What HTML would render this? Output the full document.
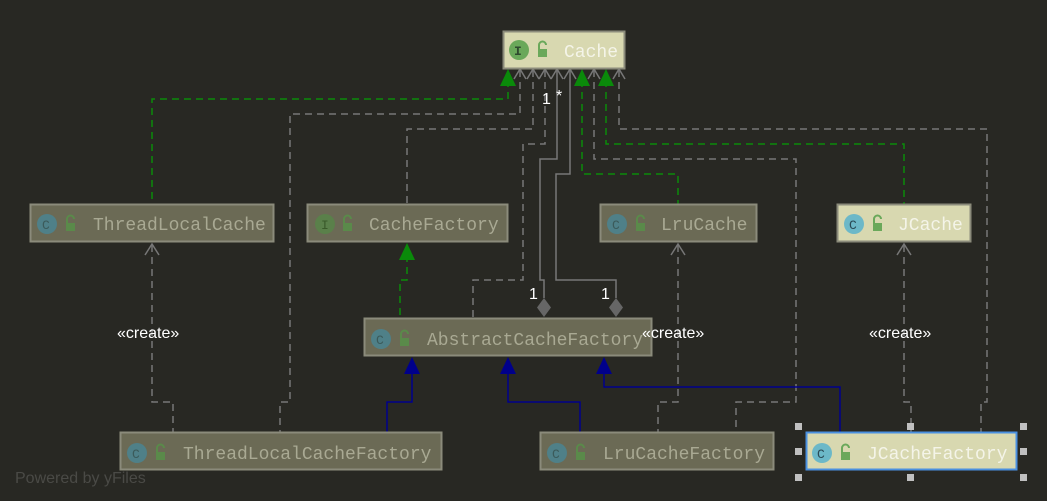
<!DOCTYPE html>
<html><head><meta charset="utf-8"><style>
html,body{margin:0;padding:0;background:#282823;}
svg{display:block}
.m{font-family:"Liberation Mono",monospace;font-size:18px}
.s{font-family:"Liberation Sans",sans-serif;font-size:16px;fill:#fff}
</style></head><body>
<svg width="1047" height="501" viewBox="0 0 1047 501" xmlns="http://www.w3.org/2000/svg">
<rect width="1047" height="501" fill="#282823"/>
<g fill="none" stroke-width="1.5">
<!-- green dashed realizations -->
<g stroke="#0a8a0a" stroke-dasharray="7,5">
<path d="M508 80V99H152V204"/>
<path d="M582 80V174H678V204"/>
<path d="M606 80V144H904V204"/>
<path d="M407 255V280H400V318"/>
</g>
<!-- gray dashed dependencies -->
<g stroke="#777" stroke-dasharray="7,5">
<path d="M520 70V114H290V402H280V432"/>
<path d="M533 70V129H407V204"/>
<path d="M545 70V144H523V280H473V318"/>
<path d="M594 70V159H796V402H736V432"/>
<path d="M619 70V129H987V402H981V432"/>
<path d="M152 245V402H173V432"/>
<path d="M678 245V402H658V432"/>
<path d="M904 245V402H911V432"/>
</g>
<!-- solid gray aggregation -->
<g stroke="#777">
<path d="M557 70V159H540V280H544V298"/>
<path d="M570 70V174H556V280H616V298"/>
</g>
<!-- open arrowheads -->
<g stroke="#777">
<path d="M514 79L520 69L526 79M527 79L533 69L539 79M539 79L545 69L551 79M551 79L557 69L563 79M564 79L570 69L576 79M588 79L594 69L600 79M613 79L619 69L625 79"/>
<path d="M145 255L152 244L159 255M671 255L678 244L685 255M897 255L904 244L911 255"/>
</g>
<!-- blue generalization -->
<g stroke="#00008b">
<path d="M412 372V402H387V432"/>
<path d="M508 372V402H580V432"/>
<path d="M604 372V387H840V432"/>
</g>
</g>
<g fill="#0a8a0a">
<path d="M508 69L500 86H516Z"/><path d="M582 69L574 86H590Z"/><path d="M606 69L598 86H614Z"/><path d="M407 243L399 260H415Z"/>
</g>
<g fill="#00008b">
<path d="M412 357L404 374H420Z"/><path d="M508 357L500 374H516Z"/><path d="M604 357L596 374H612Z"/>
</g>
<g fill="#666">
<path d="M544 298L551 307.5L544 317L537 307.5Z"/><path d="M616 298L623 307.5L616 317L609 307.5Z"/>
</g>

<!-- nodes -->
<g class="m">
<!-- Cache -->
<rect x="503.5" y="31.5" width="121" height="37" fill="#d8d8b0" stroke="#8b8b7b" stroke-width="2"/>
<circle cx="519" cy="50" r="10" fill="#6aa85a"/><text x="514" y="55" font-size="13" fill="#2e4a2e" font-weight="bold">I</text>
<rect x="538" y="49" width="9" height="8" fill="#6aa85a"/><path d="M539 49v-4a3.5 3.5 0 0 1 7 0" stroke="#6aa85a" stroke-width="2" fill="none"/>
<text x="564" y="57" fill="#f4f4e8">Cache</text>

<!-- ThreadLocalCache -->
<rect x="30.5" y="204.5" width="243" height="37" fill="#6b6a55" stroke="#8b8b7b" stroke-width="2"/>
<circle cx="47" cy="224" r="10" fill="#4f8088"/><text x="42" y="229" font-size="13" fill="#3b5a5a">C</text>
<rect x="66" y="223" width="9" height="8" fill="#5a8a4a"/><path d="M67 223v-4a3.5 3.5 0 0 1 7 0" stroke="#5a8a4a" stroke-width="2" fill="none"/>
<text x="93" y="230" fill="#a9a993">ThreadLocalCache</text>

<!-- CacheFactory -->
<rect x="307.5" y="204.5" width="200" height="37" fill="#6b6a55" stroke="#8b8b7b" stroke-width="2"/>
<circle cx="325" cy="224" r="10" fill="#5a804a"/><text x="321" y="229" font-size="13" fill="#3a5a2a">I</text>
<rect x="343" y="223" width="9" height="8" fill="#5a8a4a"/><path d="M344 223v-4a3.5 3.5 0 0 1 7 0" stroke="#5a8a4a" stroke-width="2" fill="none"/>
<text x="369" y="230" fill="#a9a993">CacheFactory</text>

<!-- LruCache -->
<rect x="600.5" y="204.5" width="156" height="37" fill="#6b6a55" stroke="#8b8b7b" stroke-width="2"/>
<circle cx="617" cy="224" r="10" fill="#4f8088"/><text x="612" y="229" font-size="13" fill="#3b5a5a">C</text>
<rect x="636" y="223" width="9" height="8" fill="#5a8a4a"/><path d="M637 223v-4a3.5 3.5 0 0 1 7 0" stroke="#5a8a4a" stroke-width="2" fill="none"/>
<text x="661" y="230" fill="#a9a993">LruCache</text>

<!-- JCache -->
<rect x="837.5" y="204.5" width="133" height="37" fill="#d8d8b0" stroke="#8b8b7b" stroke-width="2"/>
<circle cx="854" cy="224" r="10" fill="#6cb8c8"/><text x="849" y="229" font-size="13" fill="#2a4a55">C</text>
<rect x="873" y="223" width="9" height="8" fill="#6aa85a"/><path d="M874 223v-4a3.5 3.5 0 0 1 7 0" stroke="#6aa85a" stroke-width="2" fill="none"/>
<text x="898" y="230" fill="#f4f4e8">JCache</text>

<!-- AbstractCacheFactory -->
<rect x="364.5" y="318.5" width="287" height="37" fill="#6b6a55" stroke="#8b8b7b" stroke-width="2"/>
<circle cx="381" cy="339" r="10" fill="#4f8088"/><text x="376" y="344" font-size="13" fill="#3b5a5a">C</text>
<rect x="400" y="338" width="9" height="8" fill="#5a8a4a"/><path d="M401 338v-4a3.5 3.5 0 0 1 7 0" stroke="#5a8a4a" stroke-width="2" fill="none"/>
<text x="427" y="345" fill="#a9a993">AbstractCacheFactory</text>

<!-- ThreadLocalCacheFactory -->
<rect x="120.5" y="432.5" width="321" height="37" fill="#6b6a55" stroke="#8b8b7b" stroke-width="2"/>
<circle cx="137" cy="453" r="10" fill="#4f8088"/><text x="132" y="458" font-size="13" fill="#3b5a5a">C</text>
<rect x="156" y="452" width="9" height="8" fill="#5a8a4a"/><path d="M157 452v-4a3.5 3.5 0 0 1 7 0" stroke="#5a8a4a" stroke-width="2" fill="none"/>
<text x="183" y="459" fill="#a9a993">ThreadLocalCacheFactory</text>

<!-- LruCacheFactory -->
<rect x="540.5" y="432.5" width="233" height="37" fill="#6b6a55" stroke="#8b8b7b" stroke-width="2"/>
<circle cx="557" cy="453" r="10" fill="#4f8088"/><text x="552" y="458" font-size="13" fill="#3b5a5a">C</text>
<rect x="576" y="452" width="9" height="8" fill="#5a8a4a"/><path d="M577 452v-4a3.5 3.5 0 0 1 7 0" stroke="#5a8a4a" stroke-width="2" fill="none"/>
<text x="603" y="459" fill="#a9a993">LruCacheFactory</text>

<!-- JCacheFactory -->
<rect x="806.5" y="432.5" width="210" height="37" fill="#d8d8b0" stroke="#4a90e0" stroke-width="2"/>
<circle cx="822" cy="453" r="10" fill="#6cb8c8"/><text x="817" y="458" font-size="13" fill="#2a4a55">C</text>
<rect x="841" y="452" width="9" height="8" fill="#6aa85a"/><path d="M842 452v-4a3.5 3.5 0 0 1 7 0" stroke="#6aa85a" stroke-width="2" fill="none"/>
<text x="867" y="459" fill="#f4f4e8">JCacheFactory</text>
</g>
<!-- selection handles -->
<g fill="#c0c0c0">
<rect x="795" y="423" width="7" height="7"/><rect x="907" y="423" width="7" height="7"/><rect x="1020" y="423" width="7" height="7"/>
<rect x="795" y="448" width="7" height="7"/><rect x="1020" y="448" width="7" height="7"/>
<rect x="795" y="474" width="7" height="7"/><rect x="907" y="474" width="7" height="7"/><rect x="1020" y="474" width="7" height="7"/>
</g>
<!-- labels -->
<text class="s" x="542" y="104">1</text><text class="s" x="556" y="101" font-size="13">*</text>
<text class="s" x="529" y="299">1</text><text class="s" x="601" y="299">1</text>
<text class="s" x="117" y="338">«create»</text>
<text class="s" x="642" y="338">«create»</text>
<text class="s" x="869" y="338">«create»</text>
<text x="15" y="483" font-family="Liberation Sans,sans-serif" font-size="16" fill="#4a4a46">Powered by yFiles</text>
</svg>
</body></html>
